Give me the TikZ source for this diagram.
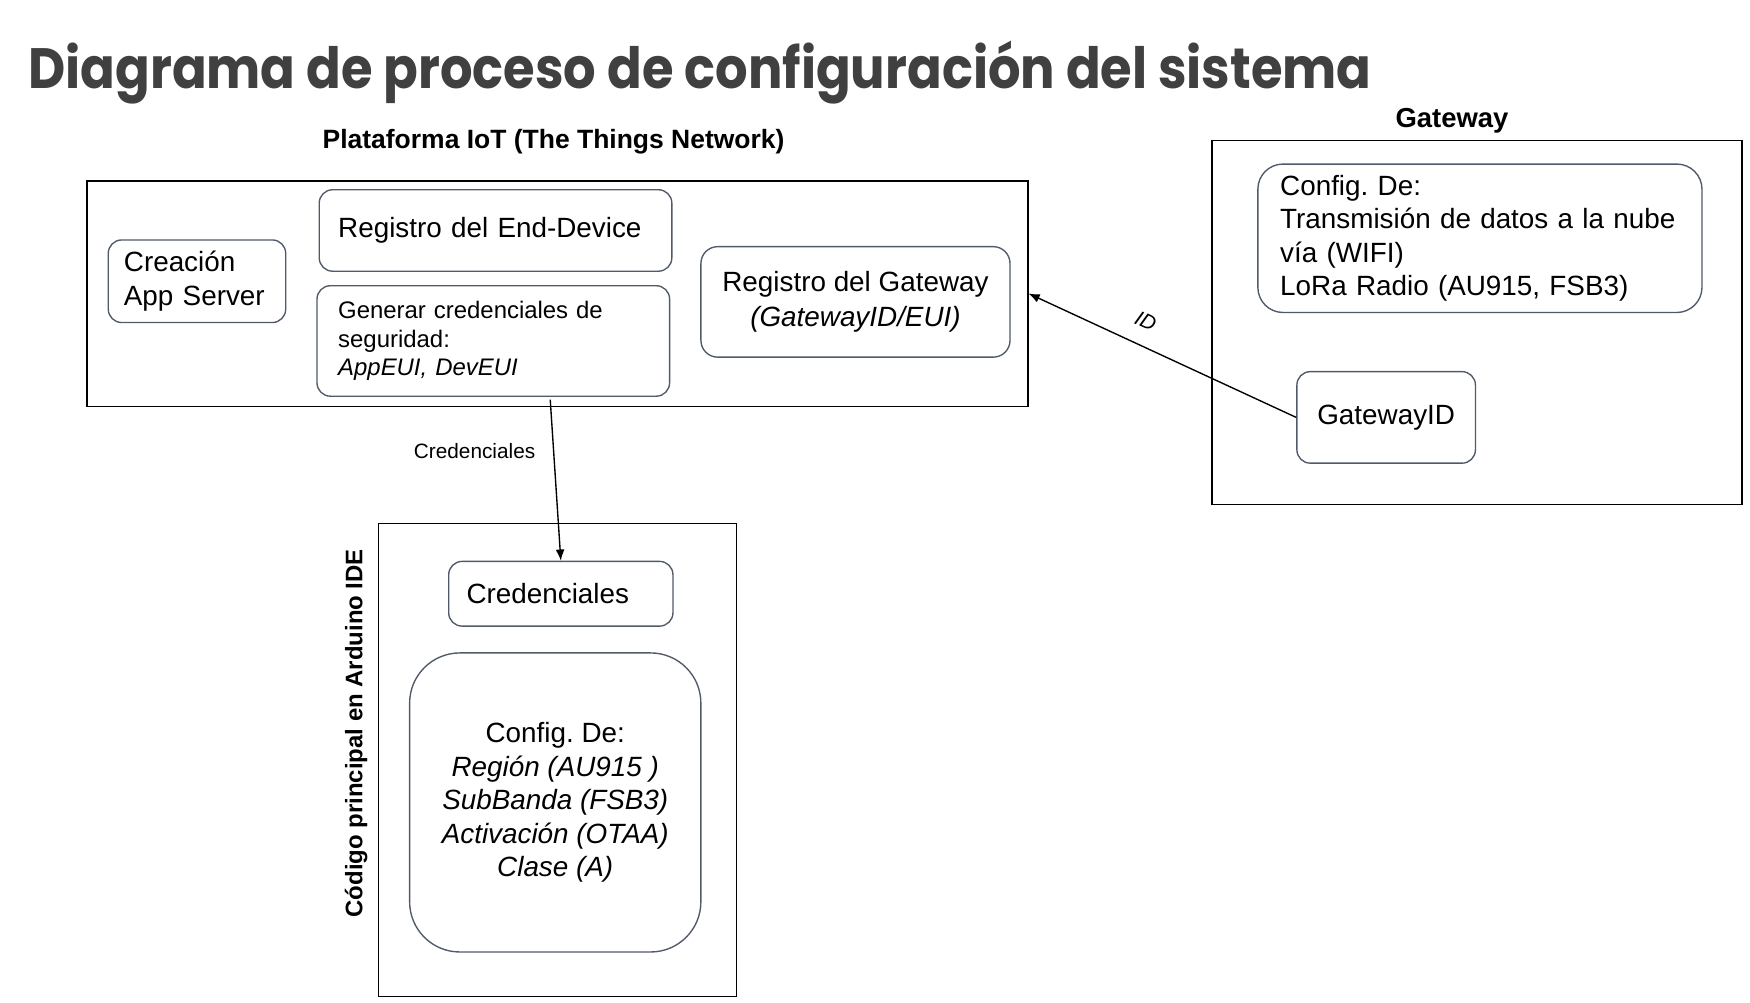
\documentclass[tikz,border=0pt]{standalone}
\usepackage{fontspec}
\setmainfont{Liberation Sans}
\newfontfamily\titlefont{Poppins}
\usetikzlibrary{arrows.meta,positioning}
\definecolor{bordecaja}{RGB}{80,90,105}
\definecolor{titulogris}{RGB}{64,64,64}
\tikzset{
  marco/.style={draw=black, line width=0.7pt, inner sep=0pt},
  caja/.style={draw=bordecaja, line width=0.7pt, rounded corners=0.24cm, font=\fontsize{14.2}{17}\selectfont},
  flecha/.style={line width=0.7pt, -{Latex[length=0.2cm,width=0.16cm]}},
}
\frenchspacing
\begin{document}
\begin{tikzpicture}[x=0.02cm, y=-0.02cm]
\useasboundingbox (0,0) rectangle (1568,898);
% titulo
\node[anchor=base west, inner sep=0pt, text=titulogris, font=\titlefont\bfseries\fontsize{29}{34}\selectfont] (titulo) at (25,79) {\scalebox{0.9}[1]{Diagrama de proceso de configuración del sistema}};

% marcos
\node[marco, minimum width=16.86cm, minimum height=4.04cm] (plat) at (499.5,263) {};
\node[marco, minimum width=9.5cm, minimum height=6.52cm] (gwmarco) at (1323.5,289) {};
\node[marco, minimum width=6.42cm, minimum height=8.48cm] (ardu) at (499.5,681) {};
\node[font=\bfseries\fontsize{13.5}{16}\selectfont] (tplat) at (496,127) {Plataforma IoT (The Things Network)};
\node[font=\bfseries\fontsize{14}{16}\selectfont] (tgw) at (1301,108) {Gateway};
\node[rotate=90, font=\bfseries\fontsize{12.2}{14}\selectfont] (tardu) at (319,657) {Código principal en Arduino IDE};

% plataforma IoT
\node[caja, text width=2.62cm, inner xsep=0.28cm, minimum height=1.48cm, align=left] (app) at (176.5,252) {Creación\\App Server};
\node[caja, text width=5.64cm, inner xsep=0.34cm, minimum height=1.46cm, align=left] (enddev) at (444,206.5) {Registro del End-Device};
\node[caja, text width=5.56cm, inner xsep=0.38cm, minimum height=1.98cm, align=left, font=\fontsize{12.2}{14.5}\selectfont] (gen) at (442,305.5) {Generar credenciales de\\seguridad:\\\textit{AppEUI, DevEUI}};
\node[caja, rounded corners=0.3cm, minimum width=5.54cm, minimum height=1.98cm, align=center, font=\fontsize{14.2}{17.6}\selectfont] (regw) at (766.5,270.5) {Registro del Gateway\\\textit{(GatewayID/EUI)}};

% gateway
\node[caja, rounded corners=0.45cm, text width=7.16cm, inner xsep=0.4cm, minimum height=2.66cm, align=left] (gwconf) at (1326,213.5) {Config. De:\\Transmisión de datos a la nube\\vía (WIFI)\\LoRa Radio (AU915, FSB3)};
\node[caja, minimum width=3.2cm, minimum height=1.64cm] (gwid) at (1242,374) {GatewayID};

% arduino
\node[caja, text width=3.38cm, inner xsep=0.32cm, minimum height=1.16cm, align=left] (cred) at (502.5,532) {Credenciales};
\node[caja, rounded corners=0.9cm, minimum width=5.22cm, minimum height=5.36cm, align=center] (ardconf) at (497.5,719) {Config. De:\\\textit{Región (AU915 )}\\\textit{SubBanda (FSB3)}\\\textit{Activación (OTAA)}\\\textit{Clase (A)}};

% conexiones
\coordinate (salida) at (493,358);
\draw[flecha] (salida) -- node[pos=0.32, left=0.2cm, font=\fontsize{10.6}{12}\selectfont] (lcred) {Credenciales} (cred.north);
\draw[flecha] (gwid.west) -- node[pos=0.6, above=0.18cm, sloped, font=\itshape\fontsize{10.6}{12}\selectfont] (lid) {ID} (plat.east);
\end{tikzpicture}
\end{document}
